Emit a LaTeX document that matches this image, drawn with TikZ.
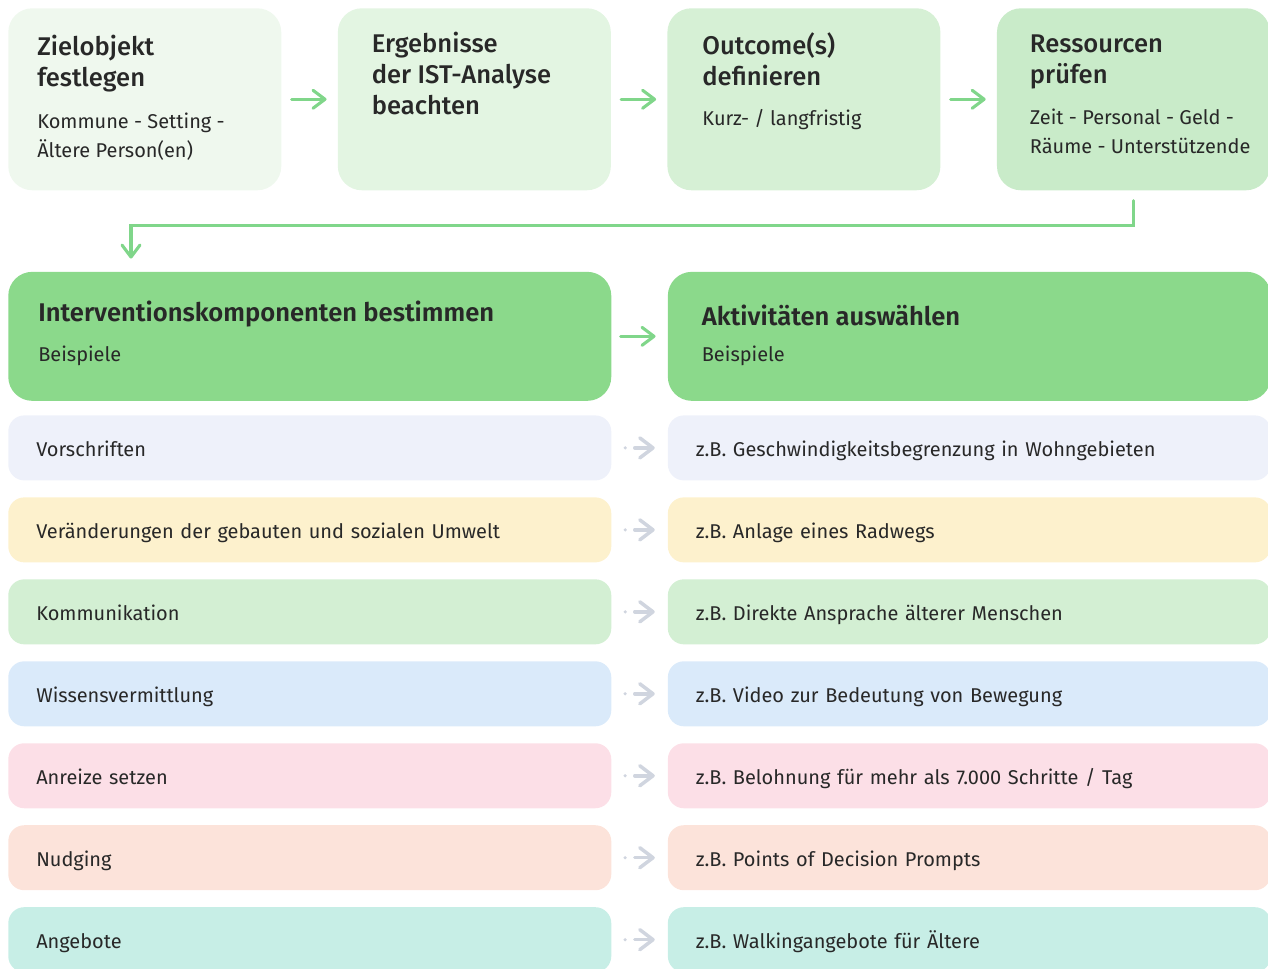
\documentclass[tikz,border=0pt]{standalone}
\usepackage{fontspec}
\setmainfont{Fira Sans}[BoldFont={Fira Sans SemiBold}]
\newfontfamily\medfont{Fira Sans Medium}
\usepackage{tikz}
\usetikzlibrary{arrows.meta,positioning}

\definecolor{topA}{RGB}{239,248,238}
\definecolor{topB}{RGB}{227,245,226}
\definecolor{topC}{RGB}{214,240,213}
\definecolor{topD}{RGB}{201,235,201}
\definecolor{boxgreen}{RGB}{139,217,139}
\definecolor{arrgreen}{RGB}{128,214,138}
\definecolor{arrgray}{RGB}{208,213,223}
\definecolor{rowA}{RGB}{238,241,250}
\definecolor{rowB}{RGB}{253,241,205}
\definecolor{rowC}{RGB}{211,239,211}
\definecolor{rowD}{RGB}{218,234,250}
\definecolor{rowE}{RGB}{252,223,231}
\definecolor{rowF}{RGB}{252,227,218}
\definecolor{rowG}{RGB}{199,238,230}
\definecolor{txtdark}{RGB}{40,40,40}

\begin{document}
\begin{tikzpicture}[
    every node/.style={font=\fontsize{14.2}{20.6}\selectfont, text=txtdark},
    topbox/.style={rounded corners=0.6cm, minimum width=6.825cm, minimum height=4.55cm, inner sep=0pt},
    bigbox/.style={rounded corners=0.6cm, fill=boxgreen, minimum width=15.075cm, minimum height=3.225cm, inner sep=0pt},
    rowbox/.style={rounded corners=0.4cm, minimum width=15.075cm, minimum height=1.625cm, text width=13.675cm, inner xsep=0.7cm, inner ysep=0pt, align=left, text height=12pt, text depth=0pt},
    ttl/.style={font=\medfont\fontsize{18.2}{22}\selectfont, align=left, inner sep=0pt},
    sub/.style={align=left, inner sep=0pt},
    head/.style={font=\bfseries\fontsize{18.2}{22}\selectfont, inner sep=0pt},
    flow/.style={draw=arrgreen, line width=2.2pt, line cap=round, -{Straight Barb[round, length=0.3cm, width=0.45cm]}},
    hint/.style={draw=arrgray, line width=2.5pt, line cap=round, dash pattern=on 0pt off 0.24cm on 2cm, shorten <=0.34cm, shorten >=0.32cm, -{Straight Barb[round, length=0.33cm, width=0.5cm]}}
  ]
    \useasboundingbox (0,0) rectangle (31.7,-24.225);

    \node (z1) [topbox, fill=topA, anchor=north west] at (0.2,-0.2) {};
    \node (z2) [topbox, fill=topB, right=1.4cm of z1] {};
    \node (z3) [topbox, fill=topC, right=1.4cm of z2] {};
    \node (z4) [topbox, fill=topD, right=1.4cm of z3] {};

    \node (z1t) [ttl, below right=0.675cm and 0.725cm of z1.north west] {Zielobjekt\\festlegen};
    \node (z1s) [sub, below right=2.625cm and 0.725cm of z1.north west] {Kommune - Setting -\\Ältere Person(en)};
    \node (z2t) [ttl, below right=0.6cm and 0.85cm of z2.north west] {Ergebnisse\\der IST-Analyse\\beachten};
    \node (z3t) [ttl, below right=0.6cm and 0.875cm of z3.north west] {Outcome(s)\\definieren};
    \node (z3s) [sub, below right=2.525cm and 0.875cm of z3.north west] {Kurz- / langfristig};
    \node (z4t) [ttl, below right=0.675cm and 0.825cm of z4.north west] {Ressourcen\\prüfen};
    \node (z4s) [sub, below right=2.525cm and 0.825cm of z4.north west] {Zeit - Personal - Geld -\\Räume - Unterstützende};

    \draw[flow, shorten <=0.25cm, shorten >=0.275cm] (z1) -- (z2);
    \draw[flow, shorten <=0.25cm, shorten >=0.275cm] (z2) -- (z3);
    \draw[flow, shorten <=0.25cm, shorten >=0.275cm] (z3) -- (z4);

    \node (k1) [bigbox, below right=2.025cm and 0cm of z1.south west] {};
    \node (k2) [bigbox, right=1.4cm of k1] {};
    \node (k1t) [head, below right=0.725cm and 0.75cm of k1.north west] {Interventionskomponenten bestimmen};
    \node (k1s) [sub, below right=1.85cm and 0.75cm of k1.north west] {Beispiele};
    \node (k2t) [head, below right=0.825cm and 0.85cm of k2.north west] {Aktivitäten auswählen};
    \node (k2s) [sub, below right=1.85cm and 0.85cm of k2.north west] {Beispiele};

    \draw[flow, shorten <=0.25cm, shorten >=0.325cm] (z4.south) -- ++(0,-0.875) -| ([xshift=3.075cm]k1.north west);
    \draw[flow, shorten <=0.225cm, shorten >=0.3cm] (k1) -- (k2);

    \node (r1) [rowbox, fill=rowA, below=0.35cm of k1] {Vorschriften};
    \node (r2) [rowbox, fill=rowB, below=0.41cm of r1] {Veränderungen der gebauten und sozialen Umwelt};
    \node (r3) [rowbox, fill=rowC, below=0.41cm of r2] {Kommunikation};
    \node (r4) [rowbox, fill=rowD, below=0.41cm of r3] {Wissensvermittlung};
    \node (r5) [rowbox, fill=rowE, below=0.41cm of r4] {Anreize setzen};
    \node (r6) [rowbox, fill=rowF, below=0.41cm of r5] {Nudging};
    \node (r7) [rowbox, fill=rowG, below=0.41cm of r6] {Angebote};

    \node (a1) [rowbox, fill=rowA, right=1.4cm of r1] {z.B. Geschwindigkeitsbegrenzung in Wohngebieten};
    \node (a2) [rowbox, fill=rowB, right=1.4cm of r2] {z.B. Anlage eines Radwegs};
    \node (a3) [rowbox, fill=rowC, right=1.4cm of r3] {z.B. Direkte Ansprache älterer Menschen};
    \node (a4) [rowbox, fill=rowD, right=1.4cm of r4] {z.B. Video zur Bedeutung von Bewegung};
    \node (a5) [rowbox, fill=rowE, right=1.4cm of r5] {z.B. Belohnung für mehr als 7.000 Schritte / Tag};
    \node (a6) [rowbox, fill=rowF, right=1.4cm of r6] {z.B. Points of Decision Prompts};
    \node (a7) [rowbox, fill=rowG, right=1.4cm of r7] {z.B. Walkingangebote für Ältere};

    \draw[hint] (r1) -- (a1);
    \draw[hint] (r2) -- (a2);
    \draw[hint] (r3) -- (a3);
    \draw[hint] (r4) -- (a4);
    \draw[hint] (r5) -- (a5);
    \draw[hint] (r6) -- (a6);
    \draw[hint] (r7) -- (a7);
  \end{tikzpicture}
\end{document}
